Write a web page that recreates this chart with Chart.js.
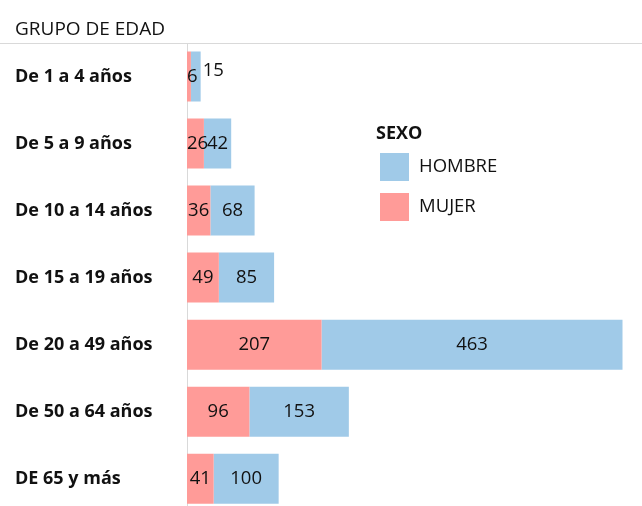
<!DOCTYPE html>
<html><head><meta charset="utf-8">
<script src="https://cdn.jsdelivr.net/npm/chart.js@4.4.0/dist/chart.umd.min.js"></script>
<style>html,body{margin:0;padding:0;background:#fff;overflow:hidden;}
#c{display:block;width:642px;height:523px;}</style>
</head><body><canvas id="c" width="642" height="523"></canvas>
<script>
const categories = ["De 1 a 4 años","De 5 a 9 años","De 10 a 14 años","De 15 a 19 años","De 20 a 49 años","De 50 a 64 años","DE 65 y más"];
const mujer = [6,26,36,49,207,96,41];
const hombre = [15,42,68,85,463,153,100];
const seriesNames = ["MUJER","HOMBRE"];
const seriesColors = ["#FF9B98","#A0CAE8"];
const axisTitle = "GRUPO DE EDAD";
const legendTitle = "SEXO";
const xMax = 700;

const textColor = "#111111";
const FONT = '"Open Sans", sans-serif';

const deco = {
  id: 'deco',
  beforeDraw(chart) {
    const ctx = chart.ctx;
    ctx.save();
    ctx.fillStyle = '#fff';
    ctx.fillRect(0, 0, chart.width, chart.height);
    ctx.strokeStyle = '#d9d9d9';
    ctx.lineWidth = 1;
    ctx.beginPath();
    ctx.moveTo(0, 43.5);
    ctx.lineTo(chart.width, 43.5);
    ctx.stroke();
    ctx.fillStyle = textColor;
    ctx.font = '19px ' + FONT;
    ctx.textBaseline = 'middle';
    ctx.textAlign = 'left';
    ctx.fillText(axisTitle, 15, 30);
    ctx.restore();
  },
  afterDatasetsDraw(chart) {
    const ctx = chart.ctx;
    ctx.save();
    ctx.font = '18.5px ' + FONT;
    ctx.fillStyle = textColor;
    ctx.textBaseline = 'middle';
    const n = chart.data.datasets.length;
    chart.data.datasets.forEach((ds, di) => {
      const meta = chart.getDatasetMeta(di);
      meta.data.forEach((bar, i) => {
        const txt = String(ds.data[i]);
        const w = ctx.measureText(txt).width;
        const left = Math.min(bar.x, bar.base), right = Math.max(bar.x, bar.base);
        let x;
        const outside = di === n - 1 && w > right - left - 2;
        if (outside) {
          ctx.textAlign = 'left';
          x = right + 2;
        } else {
          ctx.textAlign = 'center';
          x = Math.max((left + right) / 2, left + w / 2);
        }
        ctx.fillText(txt, x, outside ? bar.y - 6 : bar.y);
      });
    });
    ctx.restore();
  },
  afterDraw(chart) {
    const ctx = chart.ctx;
    ctx.save();
    ctx.fillStyle = textColor;
    ctx.textBaseline = 'middle';
    ctx.textAlign = 'left';
    ctx.font = 'bold 18px ' + FONT;
    ctx.fillText(legendTitle, 376, 134);
    ctx.font = '18.5px ' + FONT;
    const order = [1, 0];
    order.forEach((di, k) => {
      const ds = chart.data.datasets[di];
      const y = 153 + k * 40;
      ctx.fillStyle = ds.backgroundColor;
      ctx.fillRect(380, y, 29, 28);
      ctx.fillStyle = textColor;
      ctx.fillText(ds.label, 419, y + 14);
    });
    ctx.restore();
  }
};

new Chart(document.getElementById('c'), {
  type: 'bar',
  data: {
    labels: categories,
    datasets: [
      { label: seriesNames[0], data: mujer, backgroundColor: seriesColors[0], borderWidth: 0 },
      { label: seriesNames[1], data: hombre, backgroundColor: seriesColors[1], borderWidth: 0 }
    ]
  },
  options: {
    indexAxis: 'y',
    responsive: false,
    maintainAspectRatio: false,
    devicePixelRatio: 1,
    animation: false,
    layout: { padding: { left: 15, top: 43, right: 0, bottom: 0 } },
    datasets: { bar: { categoryPercentage: 1, barPercentage: 0.746 } },
    scales: {
      x: { stacked: true, display: false, min: 0, max: xMax },
      y: {
        stacked: true,
        grid: { display: false },
        border: { display: true, color: '#d9d9d9', width: 1 },
        ticks: { crossAlign: 'far', color: textColor, font: { family: FONT, size: 18, weight: 'bold' }, padding: 0 },
        afterFit(scale) { scale.width = 172; }
      }
    },
    plugins: { legend: { display: false }, tooltip: { enabled: false } }
  },
  plugins: [deco]
});
</script>
</body></html>
